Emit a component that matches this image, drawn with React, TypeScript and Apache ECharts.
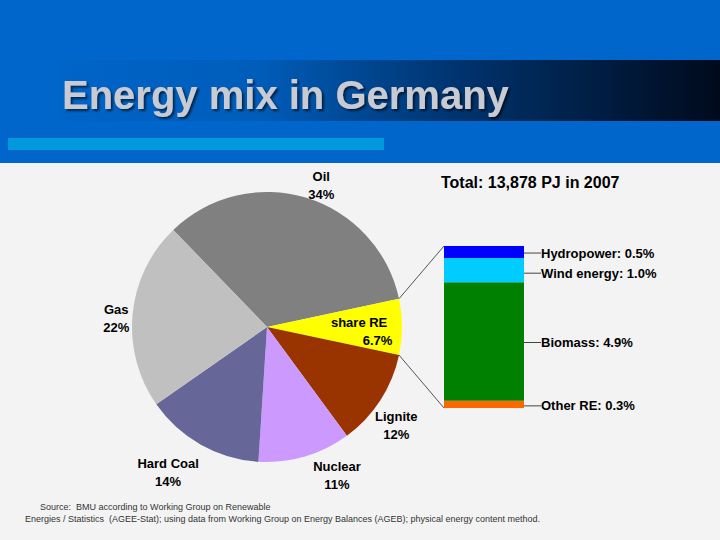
import React, { useEffect, useRef } from "react";
import * as echarts from "echarts";

const pieNames = ["Oil", "share RE", "Lignite", "Nuclear", "Hard Coal", "Gas"];
const pieValues = [33.9, 6.7, 11.6, 11.1, 14.3, 22.5];
const pieLabels = ["34%", "6.7%", "12%", "11%", "14%", "22%"];
const pieColors = ["#808080", "#FFFF00", "#993300", "#CC99FF", "#666699", "#C0C0C0"];

const reNames = ["Other RE", "Biomass", "Wind energy", "Hydropower"];
const reValues = [0.3, 4.9, 1.0, 0.5];
const reColors = ["#FF6600", "#008000", "#00CCFF", "#0000FF"];

const titleText = "Energy mix in Germany";
const totalText = "Total: 13,878 PJ in 2007";
const sourceLines = [
  "Source:  BMU according to Working Group on Renewable",
  "Energies / Statistics  (AGEE-Stat); using data from Working Group on Energy Balances (AGEB); physical energy content method.",
];

const FONT = "'Liberation Sans', Arial, Helvetica, sans-serif";

export default function App() {
  const ref = useRef<HTMLDivElement>(null);
  useEffect(() => {
    if (!ref.current) return;
    const chart = echarts.init(ref.current, null, { renderer: "svg" });

    const cx = 267, cy = 327, R = 135, startAngle = 134;
    const gridLeft = 444, gridTop = 246, gridWidth = 80, gridHeight = 162;
    const total = pieValues.reduce((a, b) => a + b, 0);
    const reStart = startAngle - (360 * pieValues[0]) / total;
    const reEnd = reStart - (360 * pieValues[1]) / total;
    const rad = (d: number) => (d * Math.PI) / 180;
    const pTop = [cx + R * Math.cos(rad(reStart)), cy - R * Math.sin(rad(reStart))];
    const pBot = [cx + R * Math.cos(rad(reEnd)), cy - R * Math.sin(rad(reEnd))];

    // label shifts (dx, dy) per pie slice
    const pieShift: number[][] = [[6.4, -1], [54.8, 4.6], [0.8, 18.7], [23.7, 7.4], [-21.8, 17], [0.6, 5.5]];
    const reDy = [1.5, 1, 3, 1];
    const labelBase = { fontFamily: FONT, fontWeight: "bold", fontSize: 13, lineHeight: 18, color: "#000" };

    chart.setOption({
      animation: false,
      backgroundColor: "#F3F3F3",
      graphic: [
        { type: "rect", z: -10, shape: { x: 0, y: 0, width: 720, height: 163 }, style: { fill: "#0066CC" } },
        {
          type: "rect", z: -9, shape: { x: 58, y: 60, width: 662, height: 61 },
          style: {
            fill: new echarts.graphic.LinearGradient(0, 0, 1, 0, [
              { offset: 0, color: "#0064C8" },
              { offset: 0.3, color: "#005DBA" },
              { offset: 0.6, color: "#00346F" },
              { offset: 1, color: "#000A1C" },
            ]),
          },
        },
        { type: "rect", z: -8, shape: { x: 8, y: 138, width: 376, height: 12 }, style: { fill: "#0099DD" } },
        {
          type: "text", z: 5, x: 62, y: 95,
          style: {
            text: titleText, fill: "#C9CAD2", font: `bold 40px ${FONT}`,
            verticalAlign: "middle", align: "left",
            textShadowColor: "rgba(0,0,0,0.6)", textShadowOffsetX: 2, textShadowOffsetY: 2, textShadowBlur: 2,
          } as any,
        },
        {
          type: "text", x: 441, y: 182,
          style: { text: totalText, fill: "#000", font: `bold 16px ${FONT}`, verticalAlign: "middle" },
        },
        {
          type: "text", x: 40, y: 507,
          style: { text: sourceLines[0], fill: "#333", font: `9px ${FONT}`, verticalAlign: "middle" },
        },
        {
          type: "text", x: 25, y: 519,
          style: { text: sourceLines[1], fill: "#333", font: `9px ${FONT}`, verticalAlign: "middle" },
        },
        { type: "line", shape: { x1: pTop[0], y1: pTop[1], x2: gridLeft, y2: gridTop }, style: { stroke: "#555", lineWidth: 1 } },
        { type: "line", shape: { x1: pBot[0], y1: pBot[1], x2: gridLeft, y2: gridTop + gridHeight }, style: { stroke: "#555", lineWidth: 1 } },
      ],
      grid: { left: gridLeft, top: gridTop, width: gridWidth, height: gridHeight },
      xAxis: { type: "category", data: ["RE"], show: false },
      yAxis: { type: "value", min: 0, max: 6.7, show: false },
      series: [
        {
          type: "pie",
          center: [cx, cy],
          radius: R,
          startAngle,
          clockwise: true,
          avoidLabelOverlap: false,
          itemStyle: { borderWidth: 0 },
          label: {
            show: true,
            position: "outside",
            formatter: (p: any) =>
              p.dataIndex === 1
                ? `{a|${p.name}}\n{b|${pieLabels[p.dataIndex]}}`
                : `${p.name}\n${pieLabels[p.dataIndex]}`,
            ...labelBase,
            rich: {
              a: { ...labelBase, padding: [0, 5, 0, 0] },
              b: { ...labelBase },
            },
          },
          labelLine: { show: false, length: 12, length2: 0 },
          labelLayout: (p: any) => ({
            dx: pieShift[p.dataIndex][0],
            dy: pieShift[p.dataIndex][1],
            align: p.dataIndex === 1 ? "right" : "center",
          }),
          data: pieNames.map((n, i) => ({
            name: n,
            value: pieValues[i],
            itemStyle: { color: pieColors[i] },
            ...(i === 1 ? { label: { position: "inside" } } : {}),
          })),
        },
        ...reNames.map((n, i) => ({
          type: "bar",
          name: n,
          stack: "re",
          barWidth: "100%",
          data: [reValues[i]],
          itemStyle: { color: reColors[i] },
          label: {
            show: true,
            position: "right",
            formatter: `${n}: ${reValues[i].toFixed(1)}%`,
            padding: [0, 0, 0, 3],
            fontFamily: FONT, fontWeight: "bold", fontSize: 13, color: "#000",
          },
          labelLine: { show: true, lineStyle: { color: "#444", width: 1 } },
          labelLayout: (p: any) => ({
            x: p.rect.x + p.rect.width + 14,
            y: p.rect.y + p.rect.height / 2 + reDy[i],
            align: "left",
            verticalAlign: "middle",
          }),
        })),
      ],
    });
    return () => chart.dispose();
  }, []);
  return <div ref={ref} style={{ position: "fixed", left: 0, top: 0, width: 720, height: 540 }} />;
}
